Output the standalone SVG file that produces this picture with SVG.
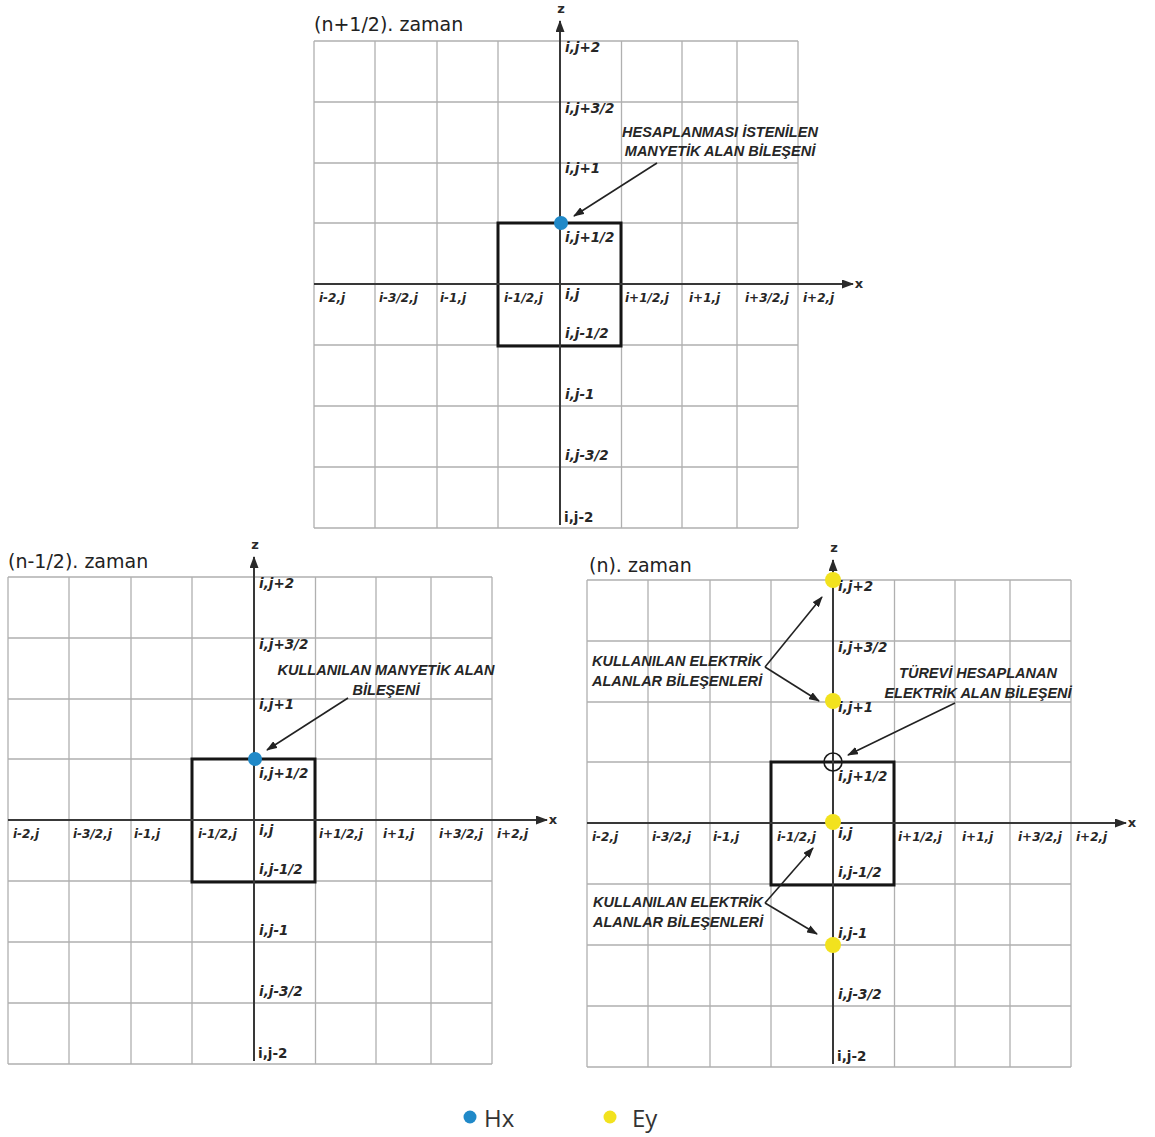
<svg xmlns="http://www.w3.org/2000/svg" width="1155" height="1137" viewBox="0 0 1155 1137">
  <style>
    .grid { fill: none; stroke: #b0b0b0; stroke-width: 1.3; }
    .axis { fill: none; stroke: #383838; stroke-width: 2; }
    .box { fill: none; stroke: #151515; stroke-width: 3; }
    .title { font-family: "DejaVu Sans", "Noto Sans", sans-serif; font-size: 19px; fill: #222; }
    .axl { font-family: "DejaVu Sans", sans-serif; font-weight: bold; font-size: 13px; fill: #2a2a2a; text-anchor: middle; }
    .lbl { font-family: "DejaVu Sans", sans-serif; font-weight: bold; font-style: italic; font-size: 12px; fill: #262626; }
    .zl { font-size: 13.5px; }
    .up { font-style: normal; }
    .ann { font-family: "Liberation Sans", Arial, sans-serif; font-weight: bold; font-style: italic; font-size: 14.5px; fill: #262626; }
    .ptr { fill: none; stroke: #222; stroke-width: 1.6; marker-end: url(#ptrhead); }
    .hx { fill: #2089c8; }
    .ey { fill: #f2e21e; }
    .leg { font-family: "Open Sans", "Noto Sans", sans-serif; font-size: 24px; fill: #333; }
  </style>
  <defs>
    <marker id="axhead" viewBox="0 0 12 9" refX="11" refY="4.5" markerWidth="12" markerHeight="9" markerUnits="userSpaceOnUse" orient="auto">
      <path d="M0,0 L12,4.5 L0,9 z" fill="#2a2a2a"/>
    </marker>
    <marker id="ptrhead" viewBox="0 0 11 8" refX="10" refY="4" markerWidth="11" markerHeight="8" markerUnits="userSpaceOnUse" orient="auto">
      <path d="M0,0 L11,4 L0,8 z" fill="#222"/>
    </marker>
  </defs>
  <rect width="1155" height="1137" fill="#ffffff"/>

  <!-- Panel: half step n+1/2, origin at the axis crossing -->
  <g id="panel-n-plus-half" transform="translate(560,284)">
    <path class="grid" d="M-246,-243V244M-185,-243V244M-123,-243V244M-62,-243V244M61.5,-243V244M122,-243V244M177,-243V244M238,-243V244M-246,-243H238M-246,-182H238M-246,-121H238M-246,-61H238M-246,61H238M-246,122H238M-246,183H238M-246,244H238"/>
    <rect class="box" x="-62" y="-61" width="123" height="123"/>
    <line class="axis" x1="0" y1="241" x2="0" y2="-263" marker-end="url(#axhead)"/>
    <line class="axis" x1="-246" y1="0" x2="293" y2="0" marker-end="url(#axhead)"/>
    <text class="axl" x="1" y="-271">z</text>
    <text class="axl" x="299" y="4">x</text>
    <text class="title" x="-246" y="-253">(n+1/2). zaman</text>
    <text class="lbl zl" x="5" y="-232">i,j+2</text>
    <text class="lbl zl" x="5" y="-171">i,j+3/2</text>
    <text class="lbl zl" x="5" y="-111">i,j+1</text>
    <text class="lbl zl" x="5" y="-42">i,j+1/2</text>
    <text class="lbl zl" x="5" y="15">i,j</text>
    <text class="lbl zl" x="5" y="54">i,j-1/2</text>
    <text class="lbl zl" x="5" y="115">i,j-1</text>
    <text class="lbl zl" x="5" y="176">i,j-3/2</text>
    <text class="lbl zl up" x="4" y="238">i,j-2</text>
    <text class="lbl" x="-241" y="18">i-2,j</text>
    <text class="lbl" x="-181" y="18">i-3/2,j</text>
    <text class="lbl" x="-120" y="18">i-1,j</text>
    <text class="lbl" x="-56" y="18">i-1/2,j</text>
    <text class="lbl" x="65" y="18">i+1/2,j</text>
    <text class="lbl" x="129" y="18">i+1,j</text>
    <text class="lbl" x="185" y="18">i+3/2,j</text>
    <text class="lbl" x="243" y="18">i+2,j</text>
  </g>
  <g id="hx-top"><circle class="hx" cx="561" cy="223" r="7"/></g>
  <g id="note-top">
    <text class="ann" x="720" y="137" text-anchor="middle">HESAPLANMASI İSTENİLEN</text>
    <text class="ann" x="720" y="156" text-anchor="middle">MANYETİK ALAN BİLEŞENİ</text>
  </g>

  <!-- Panel: half step n-1/2 -->
  <g id="panel-n-minus-half" transform="translate(254,820)">
    <path class="grid" d="M-246,-243V244M-185,-243V244M-123,-243V244M-62,-243V244M61.5,-243V244M122,-243V244M177,-243V244M238,-243V244M-246,-243H238M-246,-182H238M-246,-121H238M-246,-61H238M-246,61H238M-246,122H238M-246,183H238M-246,244H238"/>
    <rect class="box" x="-62" y="-61" width="123" height="123"/>
    <line class="axis" x1="0" y1="241" x2="0" y2="-263" marker-end="url(#axhead)"/>
    <line class="axis" x1="-246" y1="0" x2="293" y2="0" marker-end="url(#axhead)"/>
    <text class="axl" x="1" y="-271">z</text>
    <text class="axl" x="299" y="4">x</text>
    <text class="title" x="-246" y="-252">(n-1/2). zaman</text>
    <text class="lbl zl" x="5" y="-232">i,j+2</text>
    <text class="lbl zl" x="5" y="-171">i,j+3/2</text>
    <text class="lbl zl" x="5" y="-111">i,j+1</text>
    <text class="lbl zl" x="5" y="-42">i,j+1/2</text>
    <text class="lbl zl" x="5" y="15">i,j</text>
    <text class="lbl zl" x="5" y="54">i,j-1/2</text>
    <text class="lbl zl" x="5" y="115">i,j-1</text>
    <text class="lbl zl" x="5" y="176">i,j-3/2</text>
    <text class="lbl zl up" x="4" y="238">i,j-2</text>
    <text class="lbl" x="-241" y="18">i-2,j</text>
    <text class="lbl" x="-181" y="18">i-3/2,j</text>
    <text class="lbl" x="-120" y="18">i-1,j</text>
    <text class="lbl" x="-56" y="18">i-1/2,j</text>
    <text class="lbl" x="65" y="18">i+1/2,j</text>
    <text class="lbl" x="129" y="18">i+1,j</text>
    <text class="lbl" x="185" y="18">i+3/2,j</text>
    <text class="lbl" x="243" y="18">i+2,j</text>
  </g>
  <g id="hx-left"><circle class="hx" cx="255" cy="759" r="7"/></g>
  <g id="note-left">
    <text class="ann" x="386" y="675" text-anchor="middle">KULLANILAN MANYETİK ALAN</text>
    <text class="ann" x="386" y="695" text-anchor="middle">BİLEŞENİ</text>
  </g>

  <!-- Panel: full step n -->
  <g id="panel-n" transform="translate(833,823)">
    <path class="grid" d="M-246,-243V244M-185,-243V244M-123,-243V244M-62,-243V244M61.5,-243V244M122,-243V244M177,-243V244M238,-243V244M-246,-243H238M-246,-182H238M-246,-121H238M-246,-61H238M-246,61H238M-246,122H238M-246,183H238M-246,244H238"/>
    <rect class="box" x="-62" y="-61" width="123" height="123"/>
    <line class="axis" x1="0" y1="241" x2="0" y2="-263" marker-end="url(#axhead)"/>
    <line class="axis" x1="-246" y1="0" x2="293" y2="0" marker-end="url(#axhead)"/>
    <text class="axl" x="1" y="-271">z</text>
    <text class="axl" x="299" y="4">x</text>
    <text class="title" x="-244" y="-251">(n). zaman</text>
    <text class="lbl zl" x="5" y="-232">i,j+2</text>
    <text class="lbl zl" x="5" y="-171">i,j+3/2</text>
    <text class="lbl zl" x="5" y="-111">i,j+1</text>
    <text class="lbl zl" x="5" y="-42">i,j+1/2</text>
    <text class="lbl zl" x="5" y="15">i,j</text>
    <text class="lbl zl" x="5" y="54">i,j-1/2</text>
    <text class="lbl zl" x="5" y="115">i,j-1</text>
    <text class="lbl zl" x="5" y="176">i,j-3/2</text>
    <text class="lbl zl up" x="4" y="238">i,j-2</text>
    <text class="lbl" x="-241" y="18">i-2,j</text>
    <text class="lbl" x="-181" y="18">i-3/2,j</text>
    <text class="lbl" x="-120" y="18">i-1,j</text>
    <text class="lbl" x="-56" y="18">i-1/2,j</text>
    <text class="lbl" x="65" y="18">i+1/2,j</text>
    <text class="lbl" x="129" y="18">i+1,j</text>
    <text class="lbl" x="185" y="18">i+3/2,j</text>
    <text class="lbl" x="243" y="18">i+2,j</text>
  </g>
  <g id="ey-top"><circle class="ey" cx="833" cy="580" r="8"/></g>
  <g id="ey-upper"><circle class="ey" cx="833" cy="701" r="8"/></g>
  <g id="ey-center"><circle class="ey" cx="833" cy="822" r="8"/></g>
  <g id="ey-lower"><circle class="ey" cx="833" cy="945" r="8"/></g>
  <g id="ey-target"><circle cx="833" cy="762" r="9" fill="none" stroke="#1a1a1a" stroke-width="1.6"/></g>
  <g id="note-ey-upper">
    <text class="ann" x="762" y="666" text-anchor="end">KULLANILAN ELEKTRİK</text>
    <text class="ann" x="762" y="686" text-anchor="end">ALANLAR BİLEŞENLERİ</text>
  </g>
  <g id="note-ey-target">
    <text class="ann" x="978" y="678" text-anchor="middle">TÜREVİ HESAPLANAN</text>
    <text class="ann" x="978" y="698" text-anchor="middle">ELEKTRİK ALAN BİLEŞENİ</text>
  </g>
  <g id="note-ey-lower">
    <text class="ann" x="593" y="907">KULLANILAN ELEKTRİK</text>
    <text class="ann" x="593" y="927">ALANLAR BİLEŞENLERİ</text>
  </g>

  <!-- Pointer arrows from notes to field points -->
  <g id="connectors">
    <line class="ptr" x1="657" y1="163" x2="574" y2="216"/>
    <line class="ptr" x1="348" y1="698" x2="267" y2="750"/>
    <line class="ptr" x1="765" y1="667" x2="822" y2="597"/>
    <line class="ptr" x1="765" y1="667" x2="819" y2="701"/>
    <line class="ptr" x1="955" y1="703" x2="848" y2="755"/>
    <line class="ptr" x1="765" y1="903" x2="813" y2="848"/>
    <line class="ptr" x1="765" y1="903" x2="817" y2="934"/>
  </g>

  <!-- Legend -->
  <g id="legend-hx">
    <circle class="hx" cx="470" cy="1117" r="6.5"/>
    <text class="leg" x="484" y="1127">Hx</text>
  </g>
  <g id="legend-ey">
    <circle class="ey" cx="610" cy="1117" r="6.5"/>
    <text class="leg" x="632" y="1127">Ey</text>
  </g>
</svg>
